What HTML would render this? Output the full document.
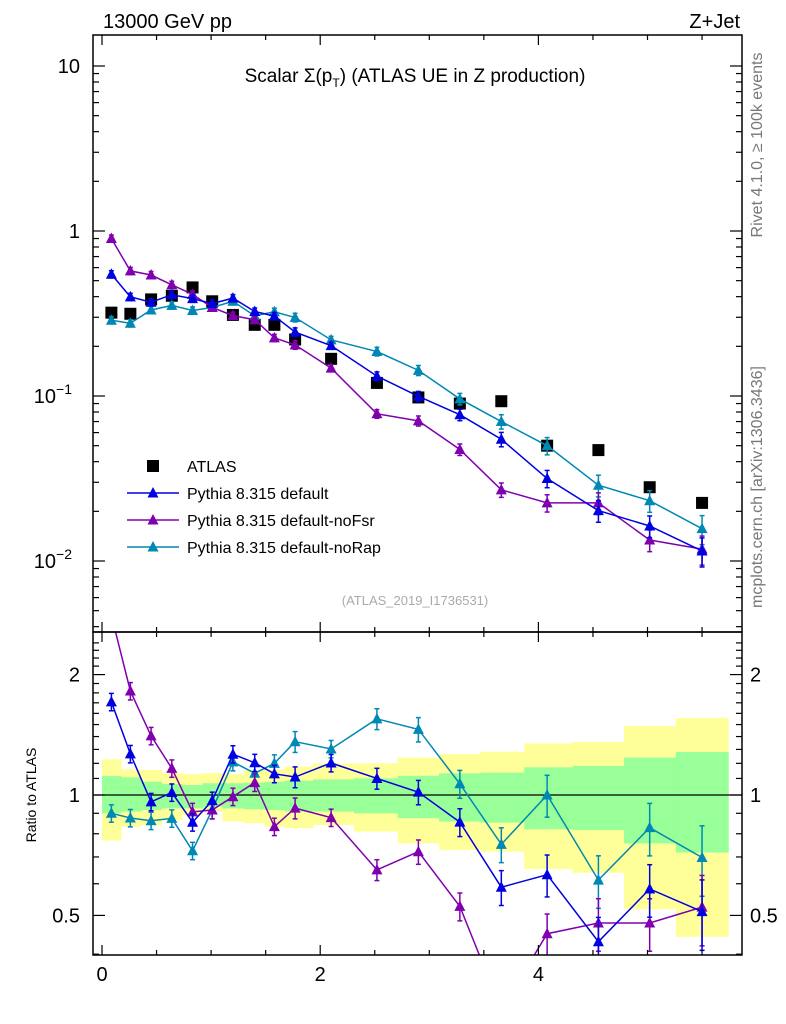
<!DOCTYPE html>
<html><head><meta charset="utf-8"><style>
body{margin:0;background:#fff;}
svg{display:block;font-family:"Liberation Sans",sans-serif;}
</style></head><body>
<svg id="c" width="786" height="1024" viewBox="0 0 786 1024" xmlns="http://www.w3.org/2000/svg">
<text x="103" y="28" font-size="20">13000 GeV pp</text>
<text x="740" y="28" font-size="20" text-anchor="end">Z+Jet</text>
<text x="415" y="82" font-size="19" text-anchor="middle">Scalar Σ(p<tspan font-size="12" dy="5">T</tspan><tspan dy="-5">) (ATLAS UE in Z production)</tspan></text>
<text x="415" y="605" font-size="13" fill="#aaa" text-anchor="middle">(ATLAS_2019_I1736531)</text>
<text transform="translate(762,145) rotate(-90)" font-size="16" fill="#777" text-anchor="middle">Rivet 4.1.0, ≥ 100k events</text>
<text transform="translate(762,487) rotate(-90)" font-size="16" fill="#777" text-anchor="middle">mcplots.cern.ch [arXiv:1306.3436]</text>
<text transform="translate(36,795) rotate(-90)" font-size="14" text-anchor="middle">Ratio to ATLAS</text>
</svg>
<script>
const centers=[0.086,0.26,0.45,0.64,0.83,1.01,1.2,1.4,1.58,1.77,2.1,2.52,2.9,3.28,3.66,4.08,4.55,5.02,5.5];
const dataVals=[0.32,0.315,0.385,0.405,0.455,0.375,0.31,0.27,0.27,0.22,0.168,0.12,0.098,0.09,0.093,0.05,0.047,0.028,0.0225];
const blueVals=[0.547,0.399,0.370,0.411,0.389,0.363,0.392,0.325,0.305,0.244,0.202,0.132,0.0996,0.077,0.0547,0.0316,0.0202,0.0163,0.0115];
const purpleVals=[0.9,0.573,0.541,0.472,0.413,0.344,0.307,0.29,0.225,0.204,0.1475,0.078,0.0707,0.0474,0.027,0.0225,0.0225,0.0134,0.0118];
const tealVals=[0.288,0.276,0.332,0.354,0.330,0.344,0.375,0.306,0.324,0.299,0.219,0.186,0.143,0.096,0.070,0.05,0.0288,0.0232,0.0157];
const relErr=[0.05,0.05,0.05,0.05,0.05,0.05,0.05,0.05,0.05,0.06,0.05,0.06,0.07,0.08,0.1,0.12,0.15,0.15,0.2];
const yelUp=[1.228,1.159,1.155,1.133,1.128,1.133,1.128,1.155,1.159,1.177,1.2,1.2,1.24,1.266,1.283,1.346,1.357,1.488,1.557];
const yelDn=[0.769,0.833,0.841,0.866,0.891,0.909,0.858,0.85,0.833,0.826,0.841,0.81,0.757,0.729,0.722,0.653,0.639,0.518,0.442];
const grnUp=[1.115,1.107,1.079,1.065,1.059,1.07,1.07,1.073,1.079,1.086,1.094,1.101,1.117,1.133,1.137,1.173,1.182,1.24,1.281];
const grnDn=[0.9,0.909,0.917,0.926,0.926,0.935,0.926,0.921,0.917,0.909,0.909,0.9,0.875,0.858,0.853,0.821,0.817,0.757,0.718];
const mainTicks=[{v:10,t:"10"},{v:1,t:"1"},{v:0.1,t:"10",e:"−1"},{v:0.01,t:"10",e:"−2"}];
const ratioTicks=[{v:2,t:"2"},{v:1,t:"1"},{v:0.5,t:"0.5"}];
const xTicks=[0,2,4];

const NS="http://www.w3.org/2000/svg";
const svg=document.getElementById('c');
const L=93,R=742,MT=35,MB=632,RT=632,RB=955;
const X=v=>102+v*109.1;
const YM=v=>231-165*Math.log10(v);
const YR=v=>795-400*Math.log10(v);
function el(tag,attrs,parent){const e=document.createElementNS(NS,tag);for(const k in attrs)e.setAttribute(k,attrs[k]);(parent||svg).appendChild(e);return e;}
const edges=[0];for(let i=0;i<centers.length-1;i++)edges.push((centers[i]+centers[i+1])/2);edges.push(5.74);

const defs=el('defs',{});
const cm=el('clipPath',{id:'cm'},defs);el('rect',{x:L,y:MT,width:R-L,height:MB-MT},cm);
const cr=el('clipPath',{id:'cr'},defs);el('rect',{x:L,y:RT,width:R-L,height:RB-RT},cr);

const gBand=el('g',{'clip-path':'url(#cr)'});


centers.forEach((c,i)=>{
  const y=el('rect',{x:X(edges[i]),y:YR(yelUp[i]),width:X(edges[i+1])-X(edges[i])+0.5,height:YR(yelDn[i])-YR(yelUp[i]),fill:'#ffff99'},gBand);
  
  
});
centers.forEach((c,i)=>{
  const g=el('rect',{x:X(edges[i]),y:YR(grnUp[i]),width:X(edges[i+1])-X(edges[i])+0.5,height:YR(grnDn[i])-YR(grnUp[i]),fill:'#99ff99'},gBand);
  
  
});
const one=el('line',{x1:L,x2:R,y1:YR(1),y2:YR(1),stroke:'#000','stroke-width':1.3});



function tri(x,y,col,g){return el('polygon',{points:`${x-5.5},${y+4.5} ${x+5.5},${y+4.5} ${x},${y-6}`,fill:col},g);}
function ebar(x,y1,y2,col,g){
  el('line',{x1:x,x2:x,y1:y1,y2:y2,stroke:col,'stroke-width':1.5},g);
  el('line',{x1:x-2.5,x2:x+2.5,y1:y1,y2:y1,stroke:col,'stroke-width':1.5},g);
  el('line',{x1:x-2.5,x2:x+2.5,y1:y2,y2:y2,stroke:col,'stroke-width':1.5},g);
}
function series(vals,col,name){
  const gm=el('g',{'clip-path':'url(#cm)'});
  
  
  el('polyline',{points:vals.map((v,i)=>X(centers[i])+','+YM(v)).join(' '),fill:'none',stroke:col,'stroke-width':1.5},gm);
  vals.forEach((v,i)=>{const x=X(centers[i]);const e=relErr[i];
    ebar(x,YM(v*(1+e)),YM(v*(1-e)),col,gm);
    const p=tri(x,YM(v),col,gm);
    
    });
  const gr=el('g',{'clip-path':'url(#cr)'});
  
  
  const rv=vals.map((v,i)=>v/dataVals[i]);
  el('polyline',{points:rv.map((v,i)=>X(centers[i])+','+YR(v)).join(' '),fill:'none',stroke:col,'stroke-width':1.5},gr);
  rv.forEach((v,i)=>{const x=X(centers[i]);const e=relErr[i];
    ebar(x,YR(v*(1+e)),YR(v*(1-e)),col,gr);
    const p=tri(x,YR(v),col,gr);
    
    });
}
const gd=el('g',{'clip-path':'url(#cm)'});


dataVals.forEach((v,i)=>{const r=el('rect',{x:X(centers[i])-6,y:YM(v)-6,width:12,height:12,fill:'#000'},gd);
  
  });
series(tealVals,'#0088b4','pythia-norap');
series(purpleVals,'#8000b0','pythia-nofsr');
series(blueVals,'#0000e0','pythia-default');

[[MT,MB],[RT,RB]].forEach(([t,b],k)=>{
  const f=el('rect',{x:L,y:t,width:R-L,height:b-t,fill:'none',stroke:'#000','stroke-width':1.5});
  
  
});
for(let v=0;v<=5.8;v+=0.5){const x=X(v);const big=Math.abs(v-Math.round(v/2)*2)<1e-6;const len=big?10:5;
  [[MT,1],[MB,-1],[RT,1],[RB,-1]].forEach(([y,d])=>el('line',{x1:x,x2:x,y1:y,y2:y+d*len,stroke:'#000','stroke-width':1.2}));}
xTicks.forEach(v=>{const t=el('text',{x:X(v),y:RB+26,'font-size':20,'text-anchor':'middle'});t.textContent=v;
  
  });
for(let d=-3;d<=1;d++)for(let m=1;m<=9;m++){const v=m*Math.pow(10,d);const y=YM(v);if(y<MT||y>MB)continue;const len=m==1?12:6;
  el('line',{x1:L,x2:L+len,y1:y,y2:y,stroke:'#000','stroke-width':1.2});el('line',{x1:R,x2:R-len,y1:y,y2:y,stroke:'#000','stroke-width':1.2});}
mainTicks.forEach(o=>{const t=el('text',{x:o.e?72:80,y:YM(o.v)+7,'font-size':20,'text-anchor':'end'});t.textContent=o.t;
  if(o.e){const s=el('tspan',{dy:-9,'font-size':14},t);s.textContent=o.e;}
  
  });
for(let v=0.4;v<=2.5;v+=0.1){const y=YR(v);if(y<RT||y>RB)continue;const maj=[0.5,1,2].some(q=>Math.abs(q-v)<1e-6);const len=maj?12:6;
  el('line',{x1:L,x2:L+len,y1:y,y2:y,stroke:'#000','stroke-width':1.2});el('line',{x1:R,x2:R-len,y1:y,y2:y,stroke:'#000','stroke-width':1.2});}
ratioTicks.forEach(o=>{[[80,'end'],[750,'start']].forEach(([x,a])=>{const t=el('text',{x:x,y:YR(o.v)+7,'font-size':20,'text-anchor':a});t.textContent=o.t;
  
  });});
const leg=[['ATLAS','#000','sq'],['Pythia 8.315 default','#0000e0'],['Pythia 8.315 default-noFsr','#8000b0'],['Pythia 8.315 default-noRap','#0088b4']];
leg.forEach((l,i)=>{const y=466+i*27;const g=el('g',{});
  
  
  if(l[2])el('rect',{x:147,y:y-6,width:12,height:12,fill:'#000'},g);
  else{el('line',{x1:127,x2:179,y1:y,y2:y,stroke:l[1],'stroke-width':1.5},g);tri(153,y,l[1],g);}
  const t=el('text',{x:187,y:y+6,'font-size':16},g);t.textContent=l[0];});
</script>
</body></html>
